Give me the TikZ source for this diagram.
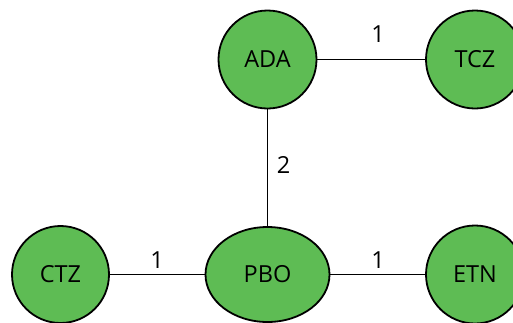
\documentclass[tikz,border=0pt]{standalone}
\usepackage{fontspec}
\setmainfont{Open Sans}
\usetikzlibrary{shapes.geometric}
\definecolor{nodegreen}{RGB}{94,188,84}
\begin{document}
\begin{tikzpicture}[x=1pt,y=-1pt,
  vert/.style={draw=black,line width=1.8pt,fill=nodegreen,font=\fontsize{23.5}{26}\selectfont,inner sep=0pt},
  edge/.style={line width=1.8pt},
  lab/.style={font=\fontsize{23.5}{26}\selectfont,inner sep=0pt}]
\useasboundingbox (0,0) rectangle (513,322);
\node[vert,circle,minimum size=98pt] (ADA) at (267.5,59.5) {ADA};
\node[vert,circle,minimum size=98pt] (TCZ) at (475,59.5) {TCZ};
\node[vert,circle,minimum size=97pt] (CTZ) at (60.5,274.5) {CTZ};
\node[vert,ellipse,minimum width=124pt,minimum height=95pt] (PBO) at (267.5,274.5) {PBO};
\node[vert,circle,minimum size=98pt] (ETN) at (475,274.5) {ETN};
\draw[edge] (ADA) -- (TCZ);
\draw[edge] (ADA) -- (PBO);
\draw[edge] (CTZ) -- (PBO);
\draw[edge] (PBO) -- (ETN);
\node[lab] (l1) at (378,34.5) {1};
\node[lab] (l2) at (283.5,165) {2};
\node[lab] (l3) at (157,260) {1};
\node[lab] (l4) at (378,260) {1};
\end{tikzpicture}
\end{document}
